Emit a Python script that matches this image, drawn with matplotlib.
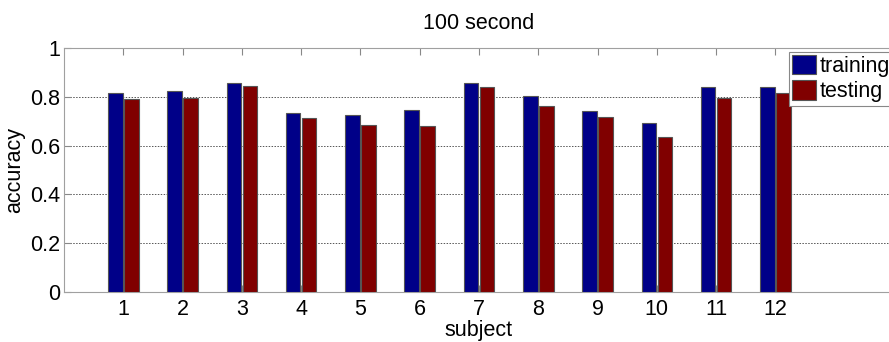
import matplotlib
matplotlib.use("Agg")
import matplotlib.pyplot as plt
import numpy as np

plt.rcParams['font.family'] = ['Liberation Sans', 'DejaVu Sans']

subjects = [1, 2, 3, 4, 5, 6, 7, 8, 9, 10, 11, 12]
training = [0.817, 0.823, 0.857, 0.733, 0.725, 0.744, 0.856, 0.804, 0.740, 0.692, 0.841, 0.841]
testing = [0.793, 0.796, 0.843, 0.713, 0.686, 0.680, 0.841, 0.762, 0.717, 0.635, 0.797, 0.814]
yticks = [0, 0.2, 0.4, 0.6, 0.8, 1]
ytick_labels = ['0', '0.2', '0.4', '0.6', '0.8', '1']

fig = plt.figure(figsize=(8.89, 3.42), dpi=100)
W, H = 889, 342
ax = fig.add_axes([64 / W, (H - 292) / H, (894 - 64) / W, (292 - 48) / H])

x = np.array(subjects)
w = 0.245
off = 0.135
ax.bar(x - off, training, width=w, color='#000088', edgecolor='#555555', linewidth=0.8, label='training', zorder=3)
ax.bar(x + off, testing, width=w, color='#800000', edgecolor='#555555', linewidth=0.8, label='testing', zorder=3)

ax.set_xlim(0, 14)
ax.set_ylim(0, 1)
ax.set_xticks(subjects)
ax.set_xticklabels([str(s) for s in subjects])
ax.set_yticks(yticks)
ax.set_yticklabels(ytick_labels)
ax.tick_params(axis='both', labelsize=15.5, direction='in', length=5, color='#888888', top=True, right=False)
ax.tick_params(axis='x', pad=5)
ax.tick_params(axis='y', pad=3)
for s in ax.spines.values():
    s.set_color('#a0a0a0')
ax.yaxis.grid(True, linestyle=(0, (1.5, 1.5)), color='#555555', linewidth=0.7, zorder=0)

ax.set_title('100 second', fontsize=15.5, pad=14)
ax.set_xlabel('subject', fontsize=15.5, labelpad=0)
ax.set_ylabel('accuracy', fontsize=15.5, labelpad=3)

leg = ax.legend(loc='upper left', bbox_to_anchor=((789 - 64) / (894 - 64), (292 - 52) / (292 - 48)),
                fontsize=15.5, frameon=True, fancybox=False, framealpha=1, edgecolor='#888888',
                handlelength=1.1, handleheight=1.0, handletextpad=0.15, borderpad=0.15,
                labelspacing=0.15, borderaxespad=0)
leg.get_frame().set_linewidth(0.8)

fig.savefig('out.png', dpi=100)
